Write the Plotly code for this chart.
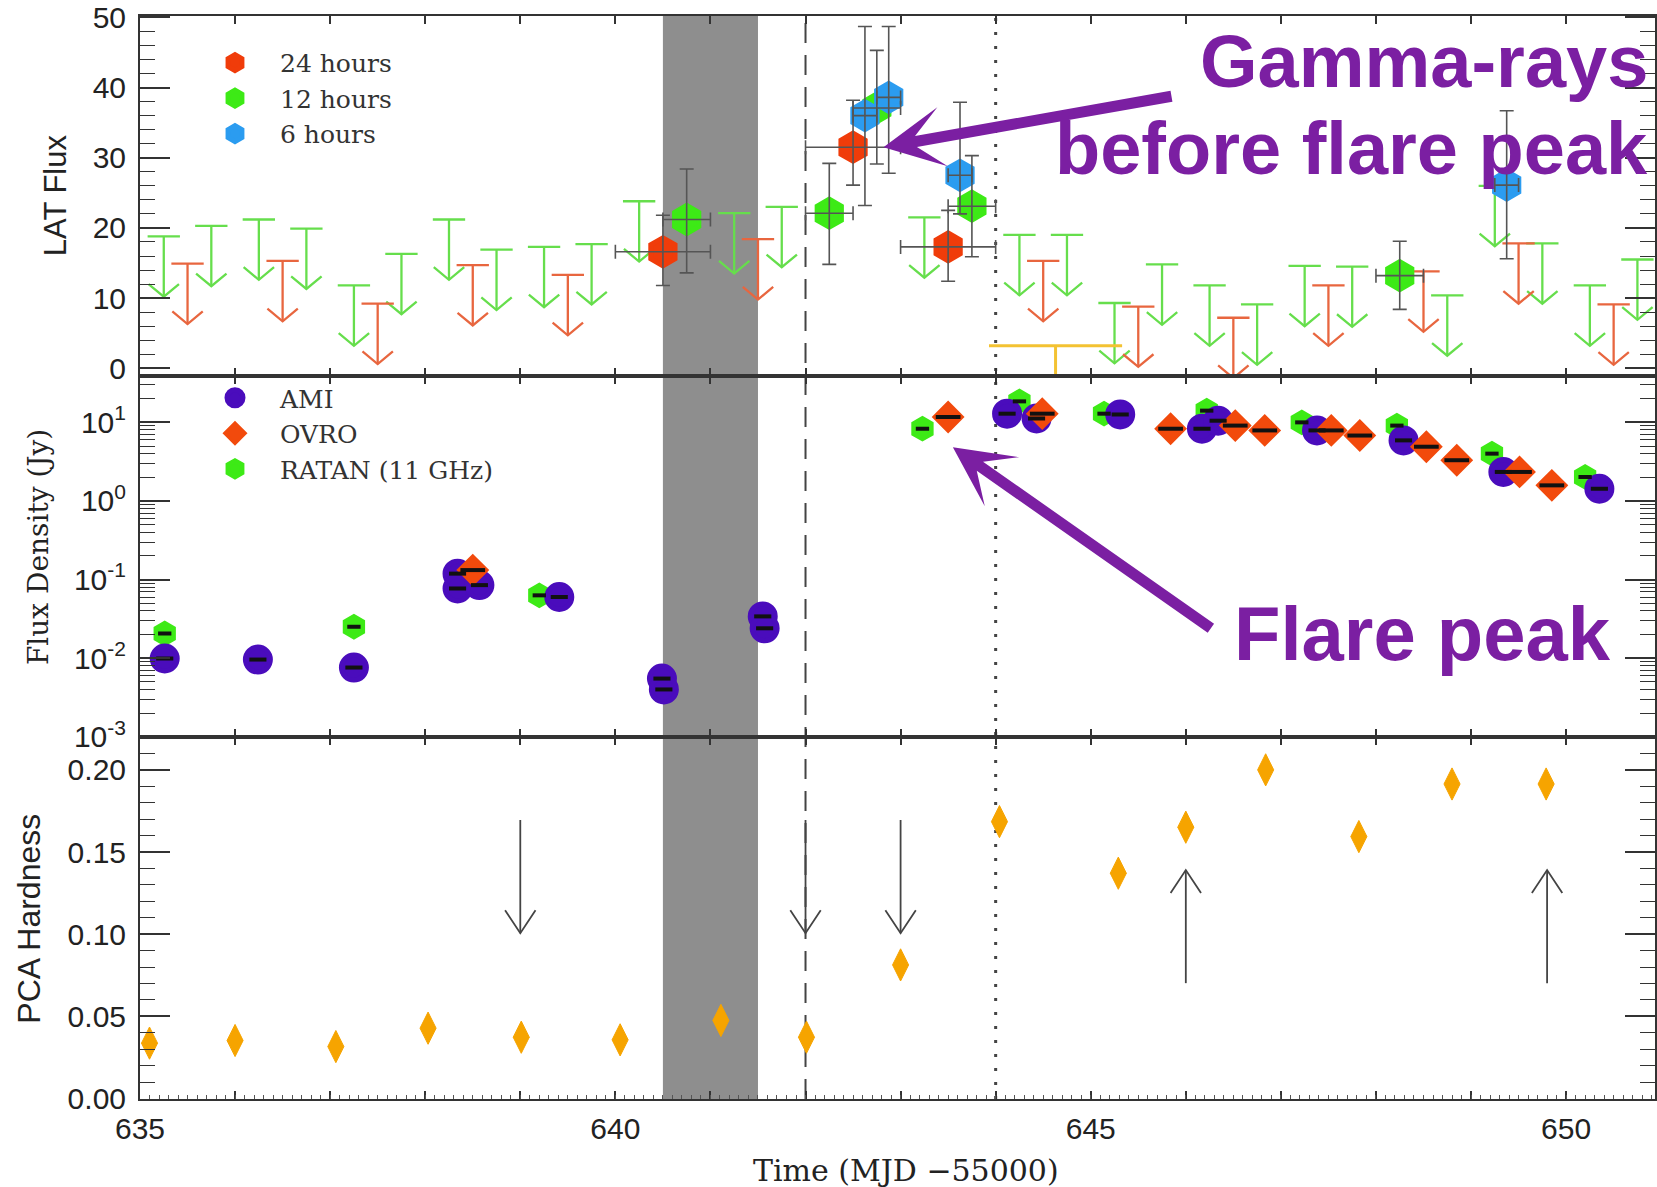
import math
import plotly.graph_objects as go
from plotly.subplots import make_subplots

# ---------------- Fermi-LAT gamma-ray flux (top panel) ----------------
# 24-hour bins
lat24_ul_time = [635.5, 636.5, 637.5, 638.5, 639.5, 641.5, 644.5, 645.5, 646.5, 647.5, 648.5, 649.5, 650.5]
lat24_ul_flux = [14.9, 15.3, 9.2, 14.7, 13.3, 18.4, 15.3, 8.8, 7.2, 11.8, 13.8, 17.8, 9.1]
lat24_time = [640.5, 642.5, 643.5]
lat24_flux = [16.6, 31.5, 17.3]
lat24_low = [11.8, 26.1, 12.4]
lat24_high = [21.8, 38.2, 22.5]

# 12-hour bins
lat12_ul_time = [635.25, 635.75, 636.25, 636.75, 637.25, 637.75, 638.25, 638.75, 639.25,
                 639.75, 640.25, 641.25, 641.75, 643.25, 644.25, 644.75, 645.25, 645.75,
                 646.25, 646.75, 647.25, 647.75, 648.75, 649.25, 649.75, 650.25, 650.75]
lat12_ul_flux = [18.8, 20.3, 21.2, 19.9, 11.8, 16.3, 21.2, 16.9, 17.3,
                 17.7, 23.8, 22.1, 23.0, 21.5, 19.0, 19.0, 9.3, 14.8,
                 11.8, 9.1, 14.6, 14.5, 10.4, 26.0, 17.8, 11.8, 15.5]
lat12_time = [640.75, 642.25, 642.75, 643.75, 648.25]
lat12_flux = [21.2, 22.1, 37.1, 23.1, 13.2]
lat12_low = [13.6, 14.8, 29.1, 15.9, 8.4]
lat12_high = [28.4, 29.2, 45.3, 30.3, 18.1]

# 6-hour bins
lat6_time = [642.625, 642.875, 643.625, 649.375]
lat6_flux = [36.0, 38.6, 27.5, 26.1]
lat6_low = [23.2, 27.8, 22.0, 15.6]
lat6_high = [48.7, 48.7, 37.9, 36.7]

# long integration upper limit
lat_long_ul_time = [644.63]
lat_long_ul_flux = [3.2]
lat_long_ul_halfwidth = 0.7

# ---------------- Radio flux density (middle panel) ----------------
ami_time = [635.26, 636.24, 637.25, 638.34, 638.34, 638.57, 639.41, 640.49, 640.51, 641.55,
            641.57, 644.12, 644.43, 645.31, 646.17, 646.34, 647.38, 648.29, 649.34, 650.35]
ami_flux = [0.0099, 0.0096, 0.0076, 0.119, 0.077, 0.085, 0.060, 0.0055, 0.0040, 0.034,
            0.024, 12.9, 11.2, 12.6, 8.3, 10.5, 7.9, 5.9, 2.34, 1.43]
ovro_time = [638.50, 643.50, 644.49, 645.84, 646.52, 646.83, 647.53, 647.83, 648.53, 648.85,
             649.51, 649.85]
ovro_flux = [0.132, 11.7, 12.9, 8.3, 9.1, 7.9, 7.9, 6.8, 4.9, 3.3, 2.34, 1.58]
ratan_time = [635.26, 637.25, 639.20, 643.23, 644.25, 645.14, 646.22, 647.22, 648.22, 649.22,
              650.20]
ratan_flux = [0.0206, 0.0251, 0.063, 8.3, 18.5, 12.9, 14.1, 10.0, 9.1, 4.0, 2.02]

# ---------------- RXTE/PCA hardness (bottom panel) ----------------
pca_time = [635.10, 636.00, 637.06, 638.03, 639.01, 640.05, 641.11, 642.01, 643.00, 644.04,
            645.29, 646.00, 646.84, 647.82, 648.80, 649.79]
pca_hardness = [0.0337, 0.0353, 0.0316, 0.0428, 0.0373, 0.0357, 0.0475, 0.0373, 0.0813, 0.1685,
                0.1371, 0.1651, 0.2000, 0.1594, 0.1914, 0.1914]
pca_down_arrow_time = [639.0, 642.0, 643.0]
pca_up_arrow_time = [646.0, 649.8]

# ---------------- event markers shared by all panels ----------------
gap_interval = [640.5, 641.5]
dashed_event = 642.0
dotted_event = 644.0

# axis ticks
day_ticks = list(range(635, 652))
time_labels = [635, 640, 645, 650]
lat_ticks = [0, 10, 20, 30, 40, 50]
radio_ticks = [1e-3, 1e-2, 1e-1, 1, 10]
radio_labels = ["10<sup>-3</sup>", "10<sup>-2</sup>", "10<sup>-1</sup>", "10<sup>0</sup>", "10<sup>1</sup>"]
pca_ticks = [0.0, 0.05, 0.10, 0.15, 0.20]
pca_labels = ["0.00", "0.05", "0.10", "0.15", "0.20"]

# ---------------- styling ----------------
RED = "#f03c0a"
GREEN = "#3dea16"
BLUE = "#2b9cf0"
UL_RED = "#e8663f"
UL_GREEN = "#66de4c"
UL_GOLD = "#f3c232"
AMI_COL = "#4a0cbc"
OVRO_COL = "#f24a0c"
PCA_COL = "#f6a400"
ERR_COL = "#555555"
AXIS_COL = "#333333"
PURPLE = "#7b1fa2"
TICK_FONT = dict(family="Liberation Sans", size=30, color="#222222")
X_RANGE = [635, 650.935]

UL_BAR = 0.17      # half-width of the limit bar (days)
UL_LENGTH = 8.6    # arrow length (flux units)
UL_HEAD_W = 0.16
UL_HEAD_H = 1.8


def limit_arrows(times, values, half_width):
    xs, ys = [], []
    for t, v in zip(times, values):
        tip = v - UL_LENGTH
        xs += [t - half_width, t + half_width, None, t, t, None,
               t - UL_HEAD_W, t, t + UL_HEAD_W, None]
        ys += [v, v, None, v, tip, None,
               tip + UL_HEAD_H, tip, tip + UL_HEAD_H, None]
    return xs, ys


def vertical_arrows(times, y_tail, y_tip, head_w, head_h):
    xs, ys = [], []
    sign = 1 if y_tip < y_tail else -1
    for t in times:
        xs += [t, t, None, t - head_w, t, t + head_w, None]
        ys += [y_tail, y_tip, None, y_tip + sign * head_h, y_tip, y_tip + sign * head_h, None]
    return xs, ys


def callout_arrow_path(dx, dy, shaft=11, head_len=60, head_half=30, notch=0.55):
    """Filled arrow polygon (pixel offsets, y up) with its tip at the origin and
    its tail at (dx, dy)."""
    length = math.hypot(dx, dy)
    ux, uy = dx / length, dy / length
    nx, ny = -uy, ux
    s = shaft / 2.0
    pts = [
        (0, 0),
        (head_len * ux + head_half * nx, head_len * uy + head_half * ny),
        (notch * head_len * ux + s * nx, notch * head_len * uy + s * ny),
        (length * ux + s * nx, length * uy + s * ny),
        (length * ux - s * nx, length * uy - s * ny),
        (notch * head_len * ux - s * nx, notch * head_len * uy - s * ny),
        (head_len * ux - head_half * nx, head_len * uy - head_half * ny),
    ]
    return "M" + " L".join(f"{x:.2f},{y:.2f}" for x, y in pts) + " Z"


fig = make_subplots(rows=3, cols=1, shared_xaxes=True, vertical_spacing=0,
                    row_heights=[360, 361, 362])

# ---- top panel: upper limits ----
for times, vals, col in [(lat12_ul_time, lat12_ul_flux, UL_GREEN),
                         (lat24_ul_time, lat24_ul_flux, UL_RED)]:
    xs, ys = limit_arrows(times, vals, UL_BAR)
    fig.add_trace(go.Scatter(x=xs, y=ys, mode="lines", line=dict(color=col, width=2.3),
                             showlegend=False, hoverinfo="skip"), row=1, col=1)

xs, ys = limit_arrows(lat_long_ul_time, lat_long_ul_flux, lat_long_ul_halfwidth)
fig.add_trace(go.Scatter(x=xs, y=ys, mode="lines", line=dict(color=UL_GOLD, width=3),
                         showlegend=False, hoverinfo="skip"), row=1, col=1)

# ---- top panel: detections ----
lat_sets = [
    ("24 hours", lat24_time, lat24_flux, lat24_low, lat24_high, RED, 0.5),
    ("12 hours", lat12_time, lat12_flux, lat12_low, lat12_high, GREEN, 0.25),
    ("6 hours", lat6_time, lat6_flux, lat6_low, lat6_high, BLUE, 0.125),
]
for name, t, f, lo, hi, col, half_bin in lat_sets:
    fig.add_trace(go.Scatter(x=t, y=f, mode="markers", name=name, legend="legend",
                             marker=dict(symbol="hexagon", size=28, color=col,
                                         line=dict(color=col, width=5))),
                  row=1, col=1)
for name, t, f, lo, hi, col, half_bin in lat_sets:
    fig.add_trace(go.Scatter(
        x=t, y=f, mode="markers", marker=dict(size=1, color="rgba(0,0,0,0)"),
        error_x=dict(type="constant", value=half_bin, color=ERR_COL, thickness=1.6, width=7),
        error_y=dict(type="data", symmetric=False,
                     array=[h - v for h, v in zip(hi, f)],
                     arrayminus=[v - l for l, v in zip(lo, f)],
                     color=ERR_COL, thickness=1.6, width=7),
        showlegend=False, hoverinfo="skip"), row=1, col=1)

# ---- middle panel: radio ----
fig.add_trace(go.Scatter(x=ratan_time, y=ratan_flux, mode="markers", name="RATAN (11 GHz)",
                         legend="legend2", legendrank=3,
                         marker=dict(symbol="hexagon", size=20, color=GREEN,
                                     line=dict(color=GREEN, width=5))), row=2, col=1)
fig.add_trace(go.Scatter(x=ami_time, y=ami_flux, mode="markers", name="AMI",
                         legend="legend2", legendrank=1,
                         marker=dict(symbol="circle", size=25, color=AMI_COL,
                                     line=dict(color=AMI_COL, width=5))), row=2, col=1)
fig.add_trace(go.Scatter(x=ovro_time, y=ovro_flux, mode="markers", name="OVRO",
                         legend="legend2", legendrank=2,
                         marker=dict(symbol="diamond", size=22, color=OVRO_COL,
                                     line=dict(color=OVRO_COL, width=3))), row=2, col=1)
for t, f, half in [(ratan_time, ratan_flux, 0.07), (ami_time, ami_flux, 0.09),
                   (ovro_time, ovro_flux, 0.13)]:
    fig.add_trace(go.Scatter(x=t, y=f, mode="markers", marker=dict(size=1, color="rgba(0,0,0,0)"),
                             error_x=dict(type="constant", value=half, color="#111111",
                                          thickness=4, width=0),
                             showlegend=False, hoverinfo="skip"), row=2, col=1)

# ---- bottom panel: PCA hardness ----
for times, tail, tip in [(pca_down_arrow_time, 0.1695, 0.1006),
                         (pca_up_arrow_time, 0.0702, 0.139)]:
    xs, ys = vertical_arrows(times, tail, tip, 0.16, 0.014)
    fig.add_trace(go.Scatter(x=xs, y=ys, mode="lines", line=dict(color="#444444", width=1.8),
                             showlegend=False, hoverinfo="skip"), row=3, col=1)
fig.add_trace(go.Scatter(x=pca_time, y=pca_hardness, mode="markers", showlegend=False,
                         marker=dict(symbol="diamond-tall", size=23, color=PCA_COL,
                                     line=dict(color=PCA_COL, width=1))), row=3, col=1)

# fine tick marks along the time axis (separate overlaid axis, ticks only)
fig.add_trace(go.Scatter(x=[], y=[], xaxis="x4", yaxis="y3", showlegend=False, hoverinfo="skip"))

# ---- event markers spanning all panels ----
fig.add_shape(type="rect", xref="x", yref="paper", x0=gap_interval[0], x1=gap_interval[1],
              y0=0, y1=1, fillcolor="#8e8e8e", line=dict(width=0), layer="below")
fig.add_shape(type="line", xref="x", yref="paper", x0=dashed_event, x1=dashed_event,
              y0=0, y1=1, line=dict(color="#444444", width=2, dash="20px,12px"), layer="below")
fig.add_shape(type="line", xref="x", yref="paper", x0=dotted_event, x1=dotted_event,
              y0=0, y1=1, line=dict(color="#444444", width=3, dash="3px,11px"), layer="below")

# ---- callout arrows (pixel-sized, anchored at the highlighted points) ----
fig.add_shape(type="path", xref="x", yref="y", xsizemode="pixel", ysizemode="pixel",
              xanchor=642.82, yanchor=31.5, path=callout_arrow_path(288, 51),
              fillcolor=PURPLE, line=dict(width=0), layer="above")
fig.add_shape(type="path", xref="x", yref="paper", xsizemode="pixel", ysizemode="pixel",
              xanchor=643.55, yanchor=0.6018, path=callout_arrow_path(258, -181),
              fillcolor=PURPLE, line=dict(width=0), layer="above")

# ---- axes ----
x_common = dict(range=X_RANGE, ticks="inside", ticklen=8, tickwidth=1.5, tickcolor=AXIS_COL,
                showline=True, linecolor=AXIS_COL, linewidth=2, mirror="ticks",
                showgrid=False, zeroline=False, tickfont=TICK_FONT)
fig.update_xaxes(tickmode="array", tickvals=day_ticks, **x_common)
fig.update_xaxes(row=3, col=1, tickmode="array", tickvals=time_labels,
                 ticktext=[str(v) for v in time_labels], ticklabelstandoff=2,
                 minor=dict(tickmode="linear", tick0=635, dtick=1, ticks="inside",
                            ticklen=8, tickcolor=AXIS_COL, tickwidth=1.5))
fig.update_layout(xaxis4=dict(overlaying="x3", anchor="y3", side="bottom", range=X_RANGE,
                              tickmode="linear", tick0=635, dtick=0.1, ticks="inside",
                              ticklen=4, tickwidth=1.2, tickcolor="#555555",
                              showticklabels=False, showline=False, showgrid=False,
                              zeroline=False))

y_common = dict(ticks="inside", ticklen=30, tickwidth=1.5, tickcolor=AXIS_COL,
                showline=True, linecolor=AXIS_COL, linewidth=2, mirror="ticks",
                showgrid=False, zeroline=False, tickfont=TICK_FONT, ticklabelstandoff=6)
fig.update_yaxes(row=1, col=1, range=[-1.1, 50.2], tickmode="array", tickvals=lat_ticks,
                 minor=dict(dtick=2, ticks="inside", ticklen=15, tickcolor=AXIS_COL, tickwidth=1.3),
                 **y_common)
radio_minor = [m * d for d in [1e-3, 1e-2, 1e-1, 1, 10] for m in range(2, 10)]
fig.update_yaxes(row=2, col=1, type="log", range=[-3.003, 1.59], tickmode="array",
                 tickvals=radio_ticks, ticktext=radio_labels,
                 minor=dict(tickmode="array", tickvals=radio_minor, ticks="inside", ticklen=15,
                            tickcolor=AXIS_COL, tickwidth=1.3),
                 **y_common)
fig.update_yaxes(row=3, col=1, range=[-0.0003, 0.22], tickmode="array", tickvals=pca_ticks,
                 ticktext=pca_labels,
                 minor=dict(dtick=0.01, ticks="inside", ticklen=15, tickcolor=AXIS_COL, tickwidth=1.3),
                 **y_common)

# ---- axis titles ----
titles = [
    ("LAT Flux", -0.056, 0.8347, dict(family="Liberation Sans", size=31, color="#222222")),
    ("Flux Density (Jy)", -0.0666, 0.5097, dict(family="DejaVu Serif", size=28, color="#222222")),
    ("PCA Hardness", -0.0735, 0.1662, dict(family="Liberation Sans", size=32, color="#222222")),
]
for text, x, y, font in titles:
    fig.add_annotation(text=text, x=x, y=y, xref="paper", yref="paper", showarrow=False,
                       textangle=-90, xanchor="center", yanchor="middle", font=font)
fig.add_annotation(text="Time (MJD \u221255000)", x=0.5056, y=-0.0656, xref="paper", yref="paper",
                   showarrow=False, xanchor="center", yanchor="middle",
                   font=dict(family="DejaVu Serif", size=30, color="#222222"))

# ---- callout texts ----
fig.add_annotation(text="Gamma-rays", x=0.9967, y=0.9584, xref="paper", yref="paper",
                   showarrow=False, xanchor="right", yanchor="middle",
                   font=dict(family="Liberation Sans", size=74, color=PURPLE, weight="bold"))
fig.add_annotation(text="before flare peak", x=0.9967, y=0.8772, xref="paper", yref="paper",
                   showarrow=False, xanchor="right", yanchor="middle",
                   font=dict(family="Liberation Sans", size=74, color=PURPLE, weight="bold"))
fig.add_annotation(text="Flare peak", x=0.8464, y=0.4294, xref="paper", yref="paper",
                   showarrow=False, xanchor="center", yanchor="middle",
                   font=dict(family="Liberation Sans", size=76, color=PURPLE, weight="bold"))

legend_font = dict(family="DejaVu Serif", size=25, color="#333333")
fig.update_layout(
    width=1657, height=1187,
    margin=dict(l=140, r=0, t=16, b=88),
    paper_bgcolor="white", plot_bgcolor="white",
    legend=dict(x=0.033, y=0.978, xanchor="left", yanchor="top", bgcolor="rgba(0,0,0,0)",
                font=legend_font, itemwidth=80, itemsizing="trace", tracegroupgap=0),
    legend2=dict(x=0.033, y=0.6685, xanchor="left", yanchor="top", bgcolor="rgba(0,0,0,0)",
                 font=legend_font, itemwidth=80, itemsizing="trace", tracegroupgap=0),
)

fig.write_html("out.html")
